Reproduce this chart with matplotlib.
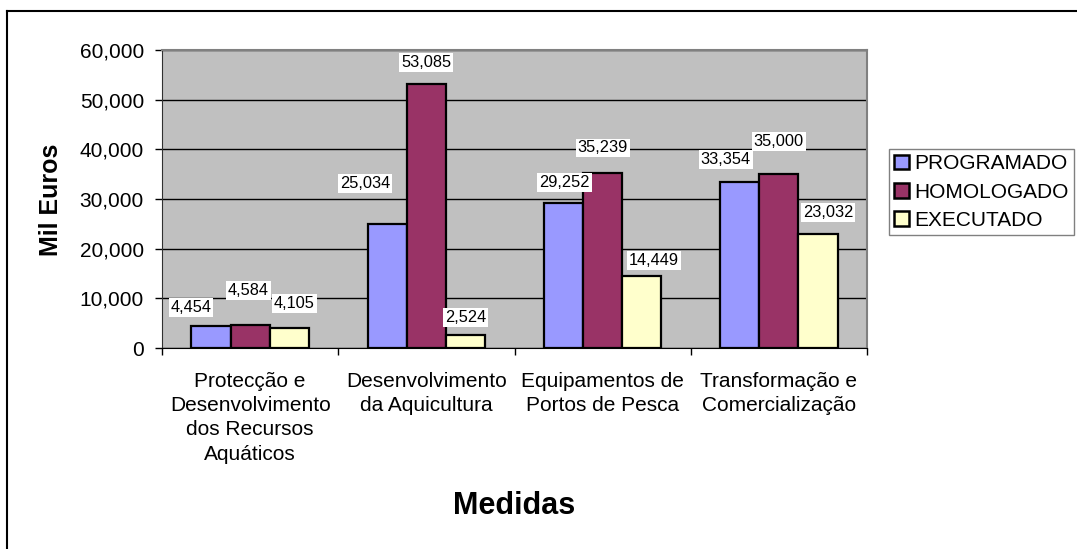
import numpy as np
import matplotlib
matplotlib.use("Agg")
import matplotlib.pyplot as plt
from matplotlib.lines import Line2D
from matplotlib.ticker import FuncFormatter

categories = ["Protecção e\nDesenvolvimento\ndos Recursos\nAquáticos",
              "Desenvolvimento\nda Aquicultura",
              "Equipamentos de\nPortos de Pesca",
              "Transformação e\nComercialização"]
series = ["PROGRAMADO", "HOMOLOGADO", "EXECUTADO"]
programado = [4454, 25034, 29252, 33354]
homologado = [4584, 53085, 35239, 35000]
executado = [4105, 2524, 14449, 23032]
colors = ["#9999FF", "#993366", "#FFFFCC"]

# label offsets (pixels, from bar top centre) to mimic the original placement
label_offsets = [
    [(-20, 18), (-22, 40), (1, 20), (-14, 23)],
    [(-2, 35), (0, 22), (0, 25), (0, 33)],
    [(5, 24), (0, 18), (12, 16), (10, 21)],
]

plt.rcParams['font.family'] = ['Liberation Sans', 'DejaVu Sans']

W, H = 1077, 549
fig = plt.figure(figsize=(W / 100, H / 100), dpi=100)
ax = fig.add_axes([162 / W, 1 - 348 / H, (867 - 162) / W, (348 - 50) / H])
ax.set_facecolor("#C0C0C0")

x = np.arange(len(categories)) + 0.5
bw = 0.222
data = [programado, homologado, executado]
for i, (name, vals) in enumerate(zip(series, data)):
    pos = x + (i - 1) * bw
    ax.bar(pos, vals, width=bw, color=colors[i], edgecolor="black",
           linewidth=1.6, label=name, zorder=3)
    for j, v in enumerate(vals):
        dx, dy = label_offsets[i][j]
        ax.annotate(f"{v:,}", (pos[j], v), xytext=(dx * 0.72, dy * 0.72),
                    textcoords="offset points", ha="center", va="center",
                    fontsize=11.8, zorder=5,
                    bbox=dict(boxstyle="square,pad=0.12", fc="white", ec="none"))

ax.set_xlim(0, 4)
ax.set_ylim(0, 60000)
ax.set_yticks(np.arange(0, 60001, 10000))
ax.yaxis.set_major_formatter(FuncFormatter(lambda v, p: f"{int(v):,}"))
ax.yaxis.grid(True, color="black", linewidth=1)
ax.set_axisbelow(True)

ax.set_xticks([0, 1, 2, 3, 4])
ax.set_xticklabels([])
ax.set_xticks(x, minor=True)
ax.set_xticklabels(categories, minor=True, fontsize=15, linespacing=1.36, va="top")
ax.tick_params(axis="x", which="minor", length=0, pad=17)
ax.tick_params(axis="x", which="major", length=5, width=1, direction="out")
ax.tick_params(axis="y", length=5, width=1, labelsize=15, pad=8)

for s in ["top", "right"]:
    ax.spines[s].set_color("#808080")
    ax.spines[s].set_linewidth(1.5)
ax.spines["left"].set_color("#303030")
ax.spines["bottom"].set_color("black")

fig.text(51 / W, 1 - 200 / H, "Mil Euros", rotation=90, ha="center", va="center",
         fontsize=18, fontweight="bold")
fig.text(514 / W, 1 - 506 / H, "Medidas", ha="center", va="center",
         fontsize=22, fontweight="bold")

leg = fig.legend(loc="upper left", bbox_to_anchor=(889 / W, 1 - 149 / H),
                 fontsize=15, frameon=True, fancybox=False, edgecolor="#606060",
                 handlelength=0.7, handleheight=0.7, handletextpad=0.25,
                 borderpad=0.25, labelspacing=0.45, borderaxespad=0)
leg.get_frame().set_linewidth(1)
for p in leg.get_patches():
    p.set_linewidth(1.8)

# outer chart border (only top and left show in the crop)
fig.add_artist(Line2D([7 / W, 1], [1 - 11 / H, 1 - 11 / H], color="black", linewidth=1.5,
                      transform=fig.transFigure))
fig.add_artist(Line2D([7 / W, 7 / W], [0, 1 - 11 / H], color="black", linewidth=1.5,
                      transform=fig.transFigure))

fig.savefig("out.png", dpi=100)
